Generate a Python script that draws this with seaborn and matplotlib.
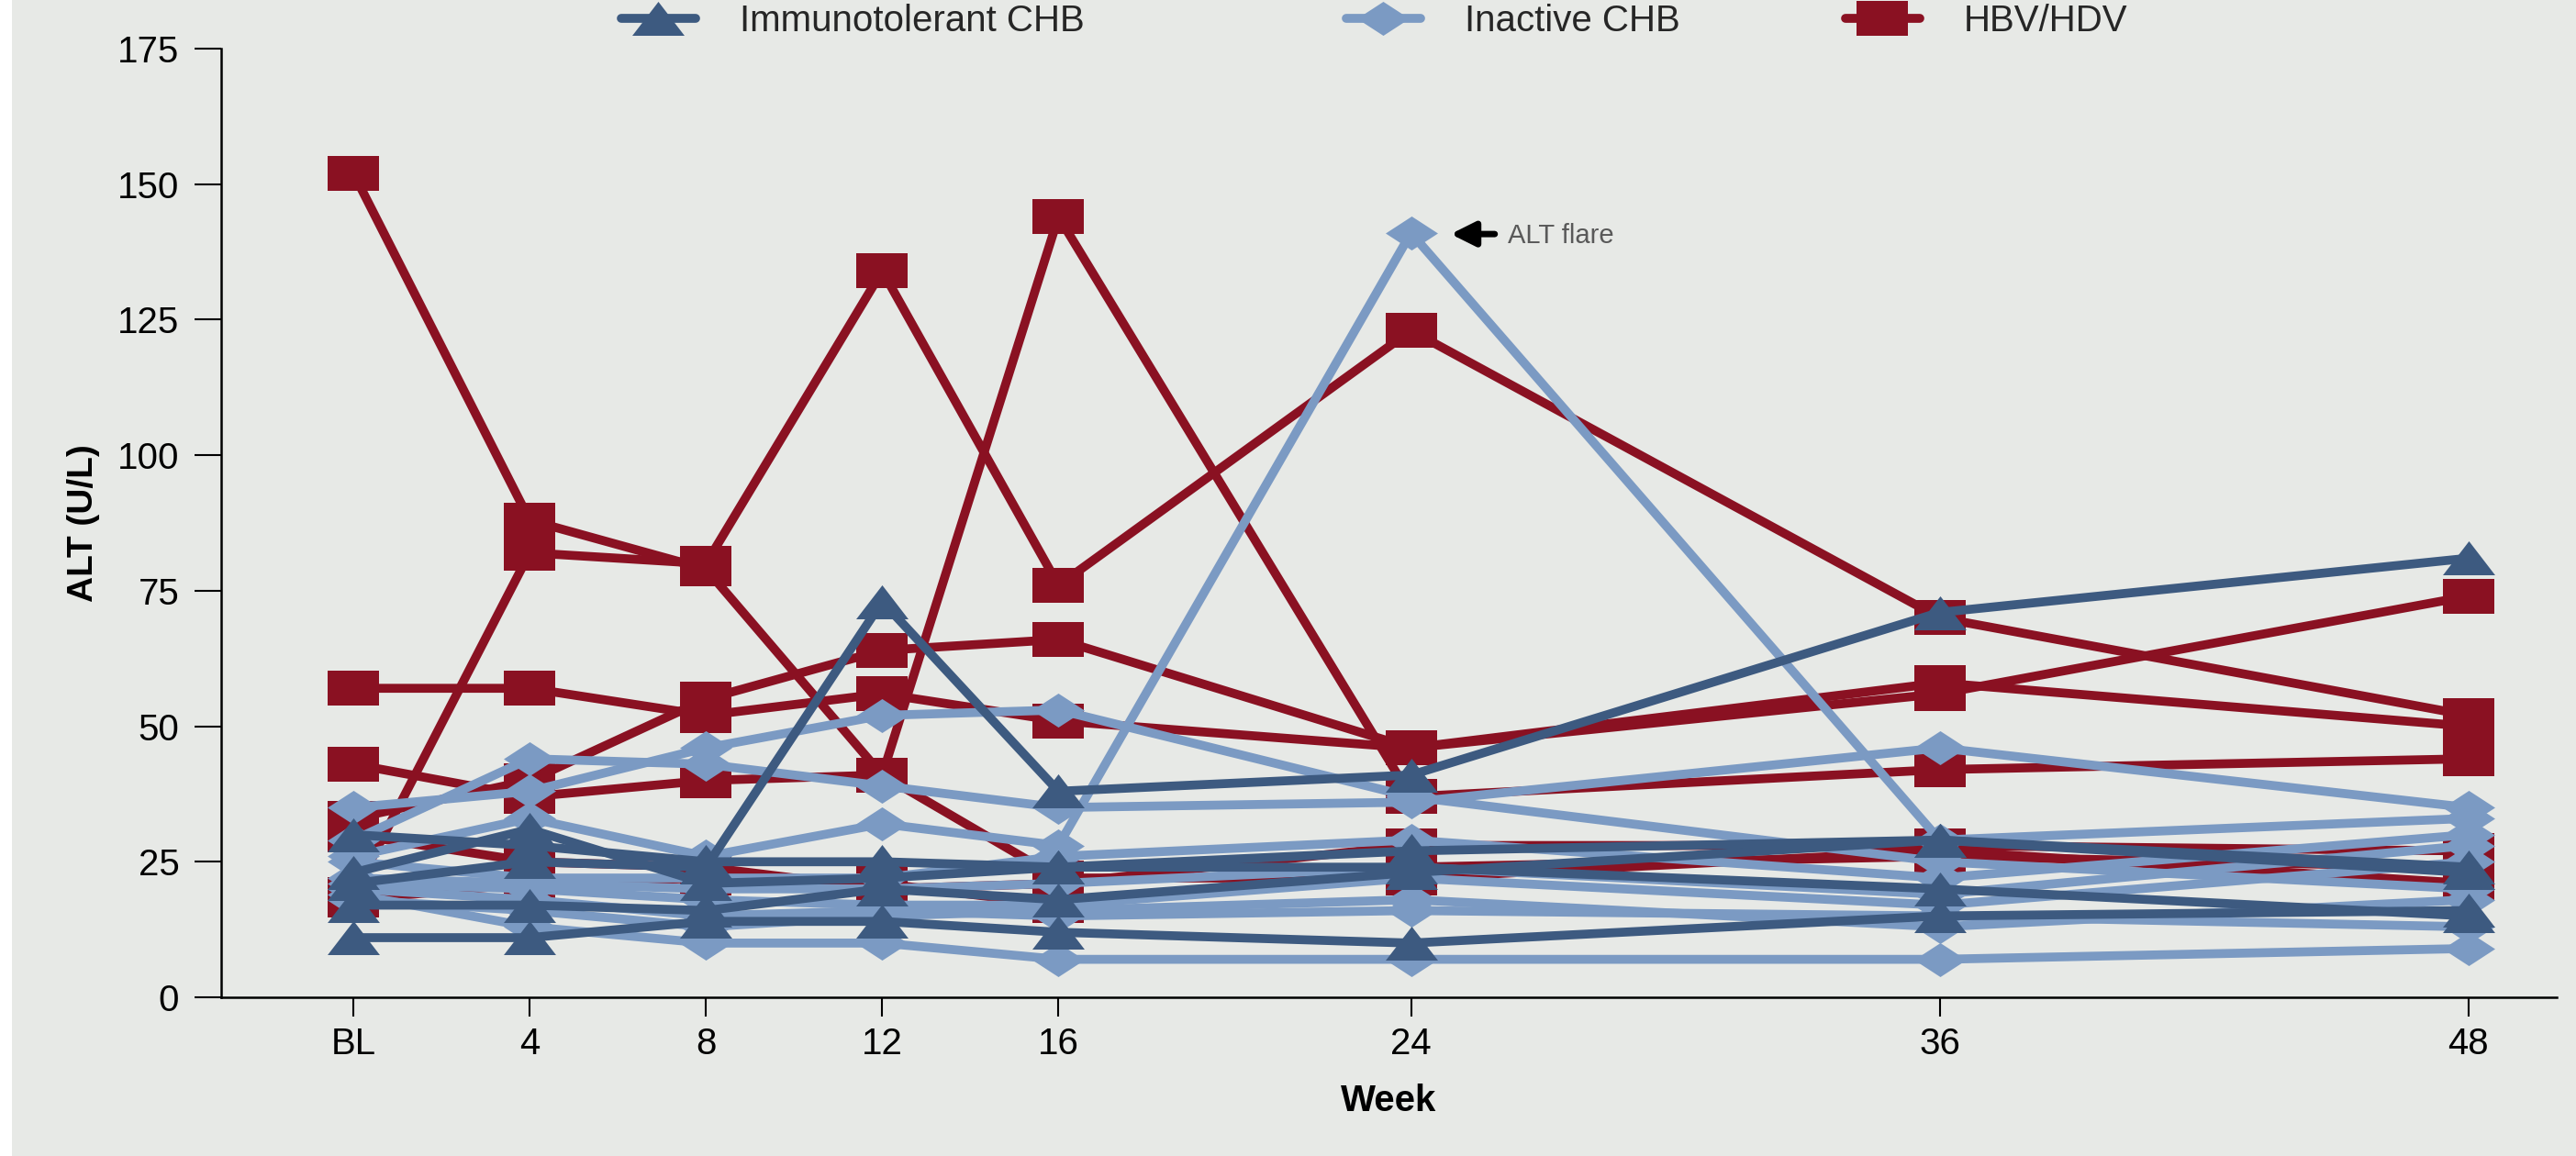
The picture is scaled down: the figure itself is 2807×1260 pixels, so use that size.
import numpy as np
import pandas as pd
import matplotlib
matplotlib.use("Agg")
import matplotlib.pyplot as plt
import seaborn as sns
from matplotlib.path import Path
from matplotlib.lines import Line2D
from matplotlib.patches import Rectangle

# x positions (weeks) and their labels
weeks = [0, 4, 8, 12, 16, 24, 36, 48]
week_labels = ["BL", "4", "8", "12", "16", "24", "36", "48"]
y_ticks = [0, 25, 50, 75, 100, 125, 150, 175]

# ALT (U/L), one list per patient, values at the weeks above
hbv_hdv = [
    [152, 88, 79, 41, 22, 22, 27, 21],
    [19, 82, 80, 134, 76, 123, 70, 52],
    [57, 57, 52, 56, 51, 46, 58, 50],
    [33, 40, 55, 64, 66, 46, 56, 74],
    [43, 37, 40, 41, 144, 37, 42, 44],
    [30, 25, 24, 20, 21, 28, 28, 27],
    [18, 21, 22, 21, 17, 24, 26, 24],
]
inactive = [
    [35, 38, 46, 52, 53, 37, 25, 20],
    [29, 44, 43, 39, 35, 36, 46, 35],
    [26, 33, 26, 32, 28, 141, 29, 33],
    [19, 13, 10, 10, 7, 7, 7, 9],
    [25, 22, 22, 22, 26, 29, 22, 30],
    [22, 21, 20, 20, 21, 24, 19, 28],
    [21, 20, 18, 17, 17, 22, 17, 25],
    [20, 18, 15, 16, 15, 16, 15, 13],
    [18, 16, 13, 15, 16, 18, 13, 18],
]
immunotolerant = [
    [21, 25, 24, 73, 38, 41, 71, 81],
    [11, 11, 14, 14, 12, 10, 15, 16],
    [17, 17, 16, 20, 18, 23, 29, 23],
    [30, 28, 25, 25, 24, 27, 29, 24],
    [23, 31, 21, 22, 24, 24, 20, 15],
]

group_names = ["Immunotolerant CHB", "Inactive CHB", "HBV/HDV"]
group_colors = {"Immunotolerant CHB": "#3D5A80",
                "Inactive CHB": "#7B9AC3",
                "HBV/HDV": "#8A1122"}
bg = "#E7E9E6"

# long table for seaborn
rows = []
for name, series in [("HBV/HDV", hbv_hdv), ("Inactive CHB", inactive),
                     ("Immunotolerant CHB", immunotolerant)]:
    for pid, vals in enumerate(series):
        for w, v in zip(weeks, vals):
            rows.append({"group": name, "patient": f"{name}-{pid}", "week": w, "alt": v})
df = pd.DataFrame(rows)

# markers are wider than tall in the original picture
def poly(verts):
    return Path(verts + [verts[0]], closed=True)

markers = {
    "Immunotolerant CHB": poly([(0, 0.65), (-1, -0.65), (1, -0.65)]),
    "Inactive CHB": poly([(0, 0.65), (-1, 0), (0, -0.65), (1, 0)]),
    "HBV/HDV": poly([(-1, -0.65), (1, -0.65), (1, 0.65), (-1, 0.65)]),
}

sns.set_theme(style="ticks")
plt.rcParams["font.family"] = ["Liberation Sans", "DejaVu Sans"]

fig = plt.figure(figsize=(28.07, 12.6), dpi=100)
fig.patch.set_facecolor(bg)
ax = fig.add_axes([0.0859, 0.1373, 0.9066, 0.8206])
ax.set_facecolor(bg)

lw = 7
ms = 41
for name in ["HBV/HDV", "Inactive CHB", "Immunotolerant CHB"]:
    sub = df[df["group"] == name]
    sns.lineplot(data=sub, x="week", y="alt", units="patient", estimator=None,
                 color=group_colors[name], marker=markers[name], markersize=ms,
                 markeredgewidth=0, linewidth=lw, legend=False, ax=ax)

ax.set_xlim(-3, 50)
ax.set_ylim(0, 175)
ax.set_xticks(weeks)
ax.set_xticklabels(week_labels)
ax.set_yticks(y_ticks)
ax.tick_params(axis="x", length=15, width=1.5, pad=8, labelsize=29, colors="black")
ax.tick_params(axis="y", length=21, width=1.5, pad=12, labelsize=29, colors="black")
sns.despine(ax=ax)
for s in ["left", "bottom"]:
    ax.spines[s].set_linewidth(1.8)
    ax.spines[s].set_color("black")
ax.grid(False)

ax.set_xlabel("Week", fontsize=29, fontweight="bold", color="black")
ax.set_ylabel("ALT (U/L)", fontsize=28, fontweight="bold", color="black")
ax.xaxis.set_label_coords(0.5, -0.109)
ax.xaxis.label.set_verticalalignment("center")
ax.yaxis.set_label_coords(-0.059, 0.5)
ax.yaxis.label.set_verticalalignment("center")

# ALT flare note next to the week 24 peak
flare_w, flare_v = 24, 141
ax.annotate("", xy=(flare_w + 0.9, flare_v - 0.2), xytext=(flare_w + 1.9, flare_v - 0.2),
            arrowprops=dict(arrowstyle="-|>,head_length=0.8,head_width=0.4",
                            color="black", lw=5, mutation_scale=20,
                            shrinkA=0, shrinkB=0))
ax.text(flare_w + 2.2, flare_v - 0.5, "ALT flare", fontsize=21, color="#595959",
        va="center", ha="left")

# legend entries placed separately along the top
legend_x = {"Immunotolerant CHB": 677, "Inactive CHB": 1467, "HBV/HDV": 2011}
for name in group_names:
    h = Line2D([], [], color=group_colors[name], lw=lw, marker=markers[name],
               markersize=ms, markeredgewidth=0)
    fig.legend(handles=[h], labels=[name], loc="center left",
               bbox_to_anchor=(legend_x[name] / 2807, 1 - 23 / 1260),
               frameon=False, fontsize=29, handlelength=2.0, handletextpad=1.2,
               borderpad=0, borderaxespad=0, numpoints=1)

# thin white strip at the left edge
fig.patches.append(Rectangle((0, 0), 13 / 2807, 1, transform=fig.transFigure,
                             facecolor="white", edgecolor="none", zorder=-1))

fig.savefig("out.png", dpi=100, facecolor=bg)
